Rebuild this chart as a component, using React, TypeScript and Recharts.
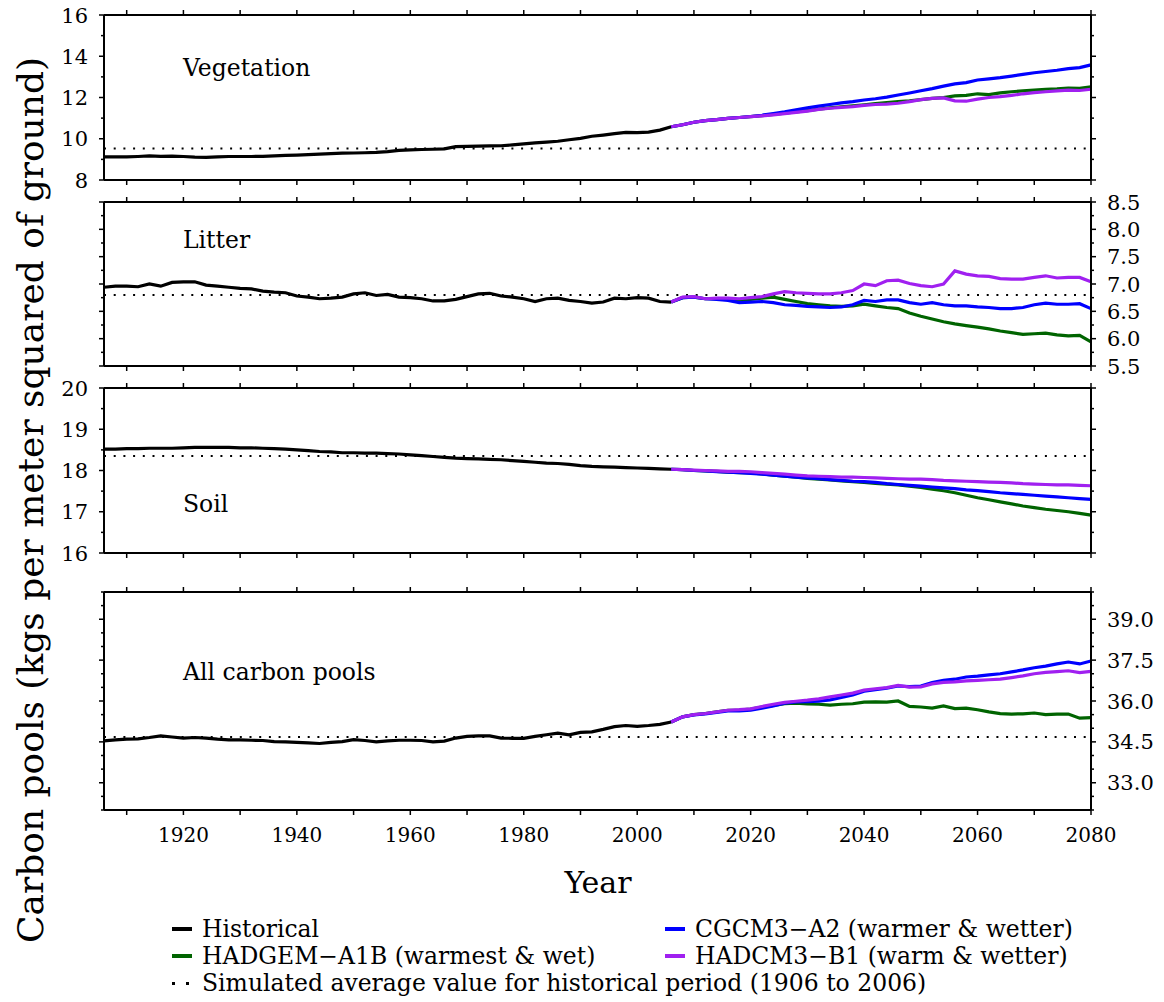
import React from "react";
import { LineChart, Line, XAxis, YAxis, ReferenceLine } from "recharts";

const FONT = '"DejaVu Serif", "Liberation Serif", serif';
const C_HIST = "#000000";
const C_GREEN = "#006400";
const C_BLUE = "#0000ff";
const C_PURPLE = "#a020f0";

// years
const histYears = [
  1906, 1908, 1910, 1912, 1914, 1916, 1918, 1920, 1922, 1924, 1926, 1928, 1930, 1932, 1934, 1936, 1938,
  1940, 1942, 1944, 1946, 1948, 1950, 1952, 1954, 1956, 1958, 1960, 1962, 1964, 1966, 1968, 1970, 1972,
  1974, 1976, 1978, 1980, 1982, 1984, 1986, 1988, 1990, 1992, 1994, 1996, 1998, 2000, 2002, 2004, 2006,
];
const futYears = [
  2006, 2008, 2010, 2012, 2014, 2016, 2018, 2020, 2022, 2024, 2026, 2028, 2030, 2032, 2034, 2036, 2038,
  2040, 2042, 2044, 2046, 2048, 2050, 2052, 2054, 2056, 2058, 2060, 2062, 2064, 2066, 2068, 2070, 2072,
  2074, 2076, 2078, 2080,
];
const xTicks = [1910, 1920, 1930, 1940, 1950, 1960, 1970, 1980, 1990, 2000, 2010, 2020, 2030, 2040, 2050, 2060, 2070, 2080];

// vegetation
const vegHist = [
  9.12, 9.12, 9.12, 9.14, 9.17, 9.15, 9.16, 9.14, 9.11, 9.1, 9.12, 9.14, 9.14, 9.14, 9.15, 9.17, 9.19,
  9.21, 9.23, 9.25, 9.28, 9.3, 9.31, 9.32, 9.34, 9.38, 9.44, 9.46, 9.48, 9.49, 9.51, 9.62, 9.63, 9.64,
  9.65, 9.66, 9.7, 9.75, 9.8, 9.84, 9.88, 9.95, 10.02, 10.12, 10.18, 10.25, 10.31, 10.3, 10.32, 10.42, 10.58,
];
const vegGreen = [
  10.58, 10.68, 10.8, 10.88, 10.93, 10.99, 11.03, 11.07, 11.12, 11.18, 11.24, 11.3, 11.36, 11.44, 11.5,
  11.55, 11.6, 11.65, 11.7, 11.75, 11.8, 11.84, 11.9, 11.96, 12.0, 12.08, 12.1, 12.18, 12.14, 12.22, 12.28,
  12.32, 12.36, 12.4, 12.42, 12.46, 12.44, 12.52,
];
const vegBlue = [
  10.58, 10.68, 10.8, 10.88, 10.93, 10.99, 11.03, 11.08, 11.14, 11.22, 11.3, 11.4, 11.5, 11.58, 11.66,
  11.74, 11.8, 11.88, 11.94, 12.02, 12.12, 12.22, 12.33, 12.43, 12.55, 12.66, 12.72, 12.85, 12.9, 12.96,
  13.04, 13.12, 13.2, 13.26, 13.32, 13.4, 13.45, 13.58,
];
const vegPurple = [
  10.58, 10.68, 10.8, 10.88, 10.93, 10.99, 11.03, 11.07, 11.11, 11.16, 11.22, 11.28, 11.34, 11.42, 11.48,
  11.52, 11.56, 11.62, 11.66, 11.68, 11.72, 11.8, 11.9, 11.96, 11.98, 11.84, 11.82, 11.92, 12.0, 12.04,
  12.1, 12.18, 12.24, 12.28, 12.32, 12.36, 12.34, 12.4,
];
const vegAvg = 9.53;

// litter
const litHist = [
  6.94, 6.96, 6.96, 6.95, 7.0, 6.96, 7.03, 7.04, 7.04, 6.98, 6.96, 6.94, 6.92, 6.91, 6.87, 6.85, 6.84,
  6.78, 6.76, 6.73, 6.74, 6.76, 6.82, 6.84, 6.79, 6.81, 6.76, 6.75, 6.73, 6.69, 6.69, 6.72, 6.77, 6.82,
  6.83, 6.78, 6.76, 6.73, 6.68, 6.73, 6.74, 6.7, 6.68, 6.65, 6.67, 6.74, 6.73, 6.75, 6.74, 6.68, 6.67,
];
const litGreen = [
  6.67, 6.75, 6.76, 6.73, 6.73, 6.72, 6.7, 6.72, 6.74, 6.76, 6.72, 6.68, 6.64, 6.62, 6.6, 6.59, 6.6, 6.63,
  6.6, 6.57, 6.55, 6.47, 6.41, 6.36, 6.31, 6.27, 6.24, 6.21, 6.18, 6.14, 6.11, 6.08, 6.09, 6.1, 6.07, 6.05,
  6.06, 5.94,
];
const litBlue = [
  6.67, 6.75, 6.76, 6.73, 6.72, 6.7, 6.66, 6.67, 6.68, 6.66, 6.62, 6.61, 6.59, 6.58, 6.57, 6.58, 6.62, 6.7,
  6.68, 6.71, 6.71, 6.66, 6.63, 6.66, 6.62, 6.6, 6.6, 6.58, 6.57, 6.55, 6.55, 6.57, 6.62, 6.65, 6.63, 6.63,
  6.64, 6.55,
];
const litPurple = [
  6.67, 6.76, 6.77, 6.73, 6.74, 6.74, 6.73, 6.75, 6.77, 6.82, 6.86, 6.84, 6.83, 6.82, 6.82, 6.84, 6.88, 7.0,
  6.97, 7.06, 7.07, 7.01, 6.97, 6.95, 7.0, 7.24, 7.18, 7.15, 7.14, 7.1, 7.09, 7.09, 7.12, 7.15, 7.11, 7.12,
  7.12, 7.04,
];
const litAvg = 6.8;

// soil
const soilHist = [
  18.52, 18.52, 18.53, 18.53, 18.54, 18.54, 18.54, 18.55, 18.56, 18.56, 18.56, 18.56, 18.55, 18.55, 18.54,
  18.53, 18.52, 18.5, 18.48, 18.46, 18.45, 18.43, 18.43, 18.42, 18.42, 18.41, 18.4, 18.38, 18.36, 18.34,
  18.32, 18.3, 18.29, 18.28, 18.27, 18.26, 18.24, 18.22, 18.2, 18.18, 18.17, 18.15, 18.12, 18.1, 18.09,
  18.08, 18.07, 18.06, 18.05, 18.04, 18.03,
];
const soilGreen = [
  18.03, 18.02, 18.0, 17.99, 17.98, 17.96, 17.95, 17.94, 17.92, 17.89, 17.86, 17.84, 17.81, 17.79, 17.77,
  17.75, 17.73, 17.71, 17.69, 17.67, 17.65, 17.62, 17.59, 17.55, 17.51, 17.46, 17.4, 17.34, 17.29, 17.24,
  17.19, 17.14, 17.1, 17.06, 17.03, 17.0, 16.96, 16.92,
];
const soilBlue = [
  18.03, 18.02, 18.0, 17.99, 17.97, 17.96, 17.95, 17.93, 17.91, 17.89, 17.86, 17.84, 17.82, 17.8, 17.78,
  17.76, 17.74, 17.73, 17.71, 17.68, 17.66, 17.64, 17.62, 17.6, 17.58, 17.56, 17.53, 17.51, 17.49, 17.46,
  17.44, 17.42, 17.4, 17.38, 17.36, 17.34, 17.32, 17.3,
];
const soilPurple = [
  18.03, 18.02, 18.01, 18.0, 17.99, 17.98, 17.98, 17.97, 17.95, 17.93, 17.91, 17.89, 17.87, 17.86, 17.85,
  17.84, 17.84, 17.83, 17.82, 17.81, 17.8, 17.79, 17.79, 17.78, 17.76, 17.75, 17.74, 17.73, 17.72, 17.71,
  17.7, 17.68, 17.67, 17.66, 17.65, 17.65, 17.64, 17.63,
];
const soilAvg = 18.35;

// all carbon pools
const allHist = [
  34.54, 34.57, 34.6, 34.61, 34.66, 34.72, 34.68, 34.64, 34.66, 34.64, 34.6, 34.57, 34.57, 34.56, 34.55,
  34.51, 34.5, 34.48, 34.46, 34.44, 34.48, 34.51, 34.58, 34.55, 34.5, 34.54, 34.56, 34.56, 34.55, 34.5,
  34.53, 34.64, 34.7, 34.72, 34.72, 34.64, 34.63, 34.63, 34.7, 34.76, 34.82, 34.76, 34.85, 34.87, 34.96,
  35.06, 35.1, 35.07, 35.1, 35.14, 35.23,
];
const allGreen = [
  35.23, 35.42, 35.5, 35.54, 35.6, 35.66, 35.67, 35.7, 35.78, 35.84, 35.9, 35.92, 35.89, 35.88, 35.85,
  35.88, 35.9, 35.96, 35.97, 35.96, 36.0, 35.8, 35.78, 35.74, 35.82, 35.72, 35.74, 35.68, 35.6, 35.54,
  35.52, 35.53, 35.56, 35.5, 35.52, 35.52, 35.37, 35.39,
];
const allBlue = [
  35.23, 35.42, 35.49, 35.53, 35.58, 35.64, 35.64, 35.66, 35.74, 35.82, 35.92, 35.97, 35.98, 35.99, 36.04,
  36.13, 36.22, 36.36, 36.42, 36.47, 36.55, 36.53, 36.55, 36.68, 36.76, 36.8, 36.88, 36.91, 36.96, 37.0,
  37.07, 37.14, 37.22, 37.28, 37.36, 37.43, 37.36, 37.47,
];
const allPurple = [
  35.23, 35.42, 35.5, 35.54, 35.6, 35.66, 35.68, 35.71, 35.8, 35.88, 35.95, 35.99, 36.03, 36.08, 36.15,
  36.22, 36.29, 36.4, 36.45, 36.49, 36.57, 36.51, 36.52, 36.63, 36.68, 36.7, 36.74, 36.76, 36.78, 36.8,
  36.86, 36.92, 37.0, 37.05, 37.08, 37.11, 37.04, 37.09,
];
const allAvg = 34.68;

// y ticks
const vegTicks = [8, 9, 10, 11, 12, 13, 14, 15, 16];
const vegMajor = [8, 10, 12, 14, 16];
const litTicks = [5.5, 5.75, 6, 6.25, 6.5, 6.75, 7, 7.25, 7.5, 7.75, 8, 8.25, 8.5];
const litMajor = [5.5, 6, 6.5, 7, 7.5, 8, 8.5];
const soilTicks = [16, 16.5, 17, 17.5, 18, 18.5, 19, 19.5, 20];
const soilMajor = [16, 17, 18, 19, 20];
const allTicks = [32, 32.5, 33, 33.5, 34, 34.5, 35, 35.5, 36, 36.5, 37, 37.5, 38, 38.5, 39, 39.5, 40];
const allMajor = [33, 34.5, 36, 37.5, 39];

type Row = { year: number; hist?: number; green?: number; blue?: number; purple?: number };

function buildRows(hist: number[], green: number[], blue: number[], purple: number[]): Row[] {
  const map = new Map<number, Row>();
  histYears.forEach((y, i) => map.set(y, { year: y, hist: hist[i] }));
  futYears.forEach((y, i) => {
    const r = map.get(y) ?? { year: y };
    r.green = green[i];
    r.blue = blue[i];
    r.purple = purple[i];
    map.set(y, r);
  });
  return [...map.values()].sort((a, b) => a.year - b.year);
}

const AXIS = { stroke: "#000", strokeWidth: 2 };
const TXT = { fontFamily: FONT };
const isIn = (list: number[], v: number) => list.some((m) => Math.abs(m - v) < 1e-6);

const makeXTick = (side: "top" | "bottom", labels: boolean) => (p: any) => {
  const v = p.payload.value;
  const d = side === "top" ? -1 : 1;
  return (
    <g>
      <line x1={p.x} y1={p.y} x2={p.x} y2={p.y + d * 5} stroke="#000" strokeWidth={1.5} />
      {labels && v % 20 === 0 && (
        <text x={p.x} y={p.y + 32} textAnchor="middle" fontSize={20} style={TXT} fill="#000">
          {v}
        </text>
      )}
    </g>
  );
};

const makeYTick = (side: "left" | "right", major: number[], labels: boolean, digits: number) => (p: any) => {
  const v = p.payload.value;
  const big = isIn(major, v);
  const d = side === "left" ? -1 : 1;
  return (
    <g>
      <line x1={p.x} y1={p.y} x2={p.x + d * (big ? 5 : 3)} y2={p.y} stroke="#000" strokeWidth={1.5} />
      {labels && big && (
        <text
          x={p.x + d * 16}
          y={p.y}
          dy="0.36em"
          textAnchor={side === "left" ? "end" : "start"}
          fontSize={21}
          style={TXT}
          fill="#000"
        >
          {v.toFixed(digits)}
        </text>
      )}
    </g>
  );
};

type PanelProps = {
  top: number;
  height: number;
  rows: Row[];
  avg: number;
  domain: [number, number];
  yTicks: number[];
  yMajor: number[];
  labelSide: "left" | "right";
  digits: number;
  showX?: boolean;
};

function Panel({ top, height, rows, avg, domain, yTicks, yMajor, labelSide, digits, showX }: PanelProps) {
  const topH = 15;
  const botH = showX ? 46 : 16;
  const common = { type: "number" as const, axisLine: AXIS, interval: 0 as const, tickLine: false, tickSize: 0, tickMargin: 0 };
  const line = { dot: false, type: "linear" as const, strokeWidth: 3.2, isAnimationActive: false };
  return (
    <div style={{ position: "absolute", left: 0, top: top - topH }}>
      <LineChart width={1164} height={height + topH + botH} data={rows} margin={{ top: 0, right: 0, bottom: 0, left: 0 }}>
        <XAxis xAxisId="t" orientation="top" dataKey="year" domain={[1906, 2080]} ticks={xTicks} height={topH} tick={makeXTick("top", false)} {...common} />
        <XAxis xAxisId="b" orientation="bottom" dataKey="year" domain={[1906, 2080]} ticks={xTicks} height={botH} tick={makeXTick("bottom", !!showX)} {...common} />
        <YAxis yAxisId="l" orientation="left" width={104} domain={domain} ticks={yTicks} tick={makeYTick("left", yMajor, labelSide === "left", digits)} {...common} />
        <YAxis yAxisId="r" orientation="right" width={73} domain={domain} ticks={yTicks} tick={makeYTick("right", yMajor, labelSide === "right", digits)} {...common} />
        <ReferenceLine xAxisId="b" yAxisId="l" y={avg} stroke="#000" strokeWidth={2} strokeDasharray="2 7.7" />
        <Line xAxisId="b" yAxisId="l" dataKey="hist" stroke={C_HIST} {...line} />
        <Line xAxisId="b" yAxisId="l" dataKey="green" stroke={C_GREEN} {...line} />
        <Line xAxisId="b" yAxisId="l" dataKey="blue" stroke={C_BLUE} {...line} />
        <Line xAxisId="t" yAxisId="r" dataKey="purple" stroke={C_PURPLE} {...line} />
      </LineChart>
    </div>
  );
}

const legendRows = [
  { x: 172, y: 929, color: C_HIST, label: "Historical" },
  { x: 665, y: 929, color: C_BLUE, label: "CGCM3\u2212A2 (warmer & wetter)" },
  { x: 172, y: 956, color: C_GREEN, label: "HADGEM\u2212A1B (warmest & wet)" },
  { x: 665, y: 956, color: C_PURPLE, label: "HADCM3\u2212B1 (warm & wetter)" },
];

export default function App() {
  return (
    <div style={{ position: "absolute", left: 0, top: 0, width: 1164, height: 1002, background: "#fff", overflow: "hidden", fontFamily: FONT }}>
      <Panel top={15} height={165} rows={buildRows(vegHist, vegGreen, vegBlue, vegPurple)} avg={vegAvg} domain={[8, 16]} yTicks={vegTicks} yMajor={vegMajor} labelSide="left" digits={0} />
      <Panel top={202} height={164} rows={buildRows(litHist, litGreen, litBlue, litPurple)} avg={litAvg} domain={[5.5, 8.5]} yTicks={litTicks} yMajor={litMajor} labelSide="right" digits={1} />
      <Panel top={388} height={165} rows={buildRows(soilHist, soilGreen, soilBlue, soilPurple)} avg={soilAvg} domain={[16, 20]} yTicks={soilTicks} yMajor={soilMajor} labelSide="left" digits={0} />
      <Panel top={592} height={218} rows={buildRows(allHist, allGreen, allBlue, allPurple)} avg={allAvg} domain={[32, 40]} yTicks={allTicks} yMajor={allMajor} labelSide="right" digits={1} showX />
      <svg width={1164} height={1002} style={{ position: "absolute", left: 0, top: 0, pointerEvents: "none", fontFamily: FONT }}>
        <text x={183} y={76} fontSize={23.5} style={TXT}>Vegetation</text>
        <text x={183} y={248} fontSize={23.5} style={TXT}>Litter</text>
        <text x={183} y={512} fontSize={23.5} style={TXT}>Soil</text>
        <text x={183} y={680} fontSize={23.5} style={TXT}>All carbon pools</text>
        <text transform="rotate(-90)" x={-500} y={43} fontSize={36} textAnchor="middle" style={TXT}>
          Carbon pools (kgs per meter squared of ground)
        </text>
        <text x={598} y={893} fontSize={30} textAnchor="middle" style={TXT}>Year</text>
        {legendRows.map((r) => (
          <g key={r.label}>
            <line x1={r.x} x2={r.x + 20} y1={r.y} y2={r.y} stroke={r.color} strokeWidth={4} />
            <text x={r.x + 30} y={r.y + 8} fontSize={23.5} style={TXT}>{r.label}</text>
          </g>
        ))}
        <rect x={172} y={982} width={3} height={3} fill="#000" />
        <rect x={186} y={982} width={3} height={3} fill="#000" />
        <text x={202} y={991} fontSize={23.5} style={TXT}>Simulated average value for historical period (1906 to 2006)</text>
      </svg>
    </div>
  );
}
